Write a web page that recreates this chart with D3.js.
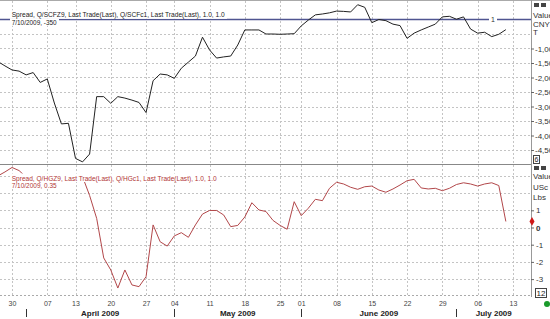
<!DOCTYPE html>
<html>
<head>
<meta charset="utf-8">
<script src="https://cdnjs.cloudflare.com/ajax/libs/d3/7.8.5/d3.min.js"></script>
<style>
body { margin: 0; background: #fff; }
svg { display: block; font-family: "Liberation Sans", Arial, sans-serif; }
</style>
</head>
<body>
<script>
// exchange holidays (no trading), everything else Mon-Fri is a trading day
var holidays = ["2009-04-06", "2009-05-01", "2009-05-28", "2009-05-29"];
var weekStarts = ["2009-03-30", "2009-04-07", "2009-04-13", "2009-04-20", "2009-04-27",
    "2009-05-04", "2009-05-11", "2009-05-18", "2009-05-25", "2009-06-01", "2009-06-08",
    "2009-06-15", "2009-06-22", "2009-06-29", "2009-07-06", "2009-07-13"];
var monthNames = ["April 2009", "May 2009", "June 2009", "July 2009"];
var monthStarts = ["2009-04-01", "2009-05-04", "2009-06-01", "2009-07-01"];

// Q/SCFZ9 - Q/SCFc1 spread (CNY/T), one value per trading day from 26 Mar to 10 Jul
var scfSpread = [-1450, -1600, -1740, -1780, -1910, -1830, -2170, -2050, -2880, -3600,
    -3580, -4790, -4910, -4640, -2660, -2660, -2890, -2660, -2710, -2780,
    -2860, -3210, -2110, -1880, -1910, -2030, -1680, -1470, -1260, -610,
    -1050, -1330, -1290, -1260, -880, -360, -360, -360, -500, -500,
    -510, -500, -490, -220, -20, 160, 190, 230, 290, 280,
    260, 510, 420, -110, 0, -40, -160, -210, -650, -470,
    -360, -260, -160, 90, 110, 10, 90, -330, -470, -440,
    -590, -510, -350];
// Q/HGZ9 - Q/HGc1 spread (USc/Lbs)
var hgSpread = [3.0, 3.23, 3.49, 3.31, 2.93, 2.90, 2.88, 2.92, 2.95, 2.90,
    2.93, 2.91, 2.95, 1.86, 0.53, -1.77, -2.47, -3.52, -2.47, -3.34,
    -3.44, -2.86, 0.15, -0.83, -1.08, -0.49, -0.30, -0.57, 0.15, 0.78,
    0.99, 0.99, 0.73, 0.05, 0.12, 0.61, 1.44, 1.02, 0.93, 0.41,
    0.12, -0.10, 1.50, 0.69, 1.12, 1.64, 1.56, 2.28, 2.63, 2.53,
    2.34, 2.22, 2.37, 2.41, 2.18, 2.05, 2.24, 2.47, 2.72, 2.80,
    2.30, 2.24, 2.28, 2.14, 2.28, 2.50, 2.60, 2.53, 2.41, 2.53,
    2.60, 2.44, 0.35];

var scfGrid = [-500, -1000, -1500, -2000, -2500, -3000, -3500, -4000, -4500];
var scfTicks = [-1000, -1500, -2000, -2500, -3000, -3500, -4000, -4500];
var hgGrid = [3, 2, 1, 0, -1, -2, -3];
var hgTicks = [1, 0, -1, -2, -3];

var fmt = d3.timeFormat("%Y-%m-%d");
var tradingDays = d3.timeDay.range(new Date(2009, 2, 26), new Date(2009, 6, 14))
    .filter(function(d) {
        return d.getDay() != 0 && d.getDay() != 6 && holidays.indexOf(fmt(d)) < 0;
    })
    .map(fmt);

var W = 550, H = 319;
var plotRight = 531;
var gridColor = "#c4c4c4";

var canvas = d3.select("body").append("svg")
    .attr("width", W)
    .attr("height", H);

var x = d3.scalePoint().domain(tradingDays).range([-2.1, 512.9]);
var yTop = d3.scaleLinear().domain([0, -4500]).range([19.5, 150]);
var yBot = d3.scaleLinear().domain([3, -3]).range([175.9, 279.1]);

var defs = canvas.append("defs");
defs.append("clipPath").attr("id", "clipTop")
    .append("rect").attr("x", 0).attr("y", 1).attr("width", plotRight).attr("height", 163);
defs.append("clipPath").attr("id", "clipBot")
    .append("rect").attr("x", 0).attr("y", 165).attr("width", plotRight).attr("height", 131);

function minusFix(f) {
    return function(d) { return f(d).replace("\u2212", "-"); };
}

// ---- grids ----
function vGrid(y0, y1) {
    canvas.append("g").selectAll("line")
        .data(weekStarts)
        .enter().append("line")
        .attr("x1", function(d) { return Math.round(x(d)) + 0.5; })
        .attr("x2", function(d) { return Math.round(x(d)) + 0.5; })
        .attr("y1", y0).attr("y2", y1)
        .attr("stroke", gridColor)
        .attr("stroke-dasharray", "2,2");
}
vGrid(1, 164);
vGrid(165, 296);

canvas.append("g").selectAll("line")
    .data(scfGrid)
    .enter().append("line")
    .attr("x1", 0).attr("x2", plotRight)
    .attr("y1", function(d) { return Math.round(yTop(d)) + 0.5; })
    .attr("y2", function(d) { return Math.round(yTop(d)) + 0.5; })
    .attr("stroke", gridColor)
    .attr("stroke-dasharray", "2,2");

canvas.append("g").selectAll("line")
    .data(hgGrid)
    .enter().append("line")
    .attr("x1", 0).attr("x2", plotRight)
    .attr("y1", function(d) { return Math.round(yBot(d)) + 0.5; })
    .attr("y2", function(d) { return Math.round(yBot(d)) + 0.5; })
    .attr("stroke", gridColor)
    .attr("stroke-dasharray", "2,2");

canvas.append("line")
    .attr("x1", 0).attr("x2", plotRight).attr("y1", 295.5).attr("y2", 295.5)
    .attr("stroke", "#aaa").attr("stroke-dasharray", "2,2");

// frame
canvas.append("line").attr("x1", 0).attr("x2", W).attr("y1", 0.5).attr("y2", 0.5).attr("stroke", "#aaa");
canvas.append("line").attr("x1", 0).attr("x2", plotRight).attr("y1", 164.5).attr("y2", 164.5).attr("stroke", "#888");
canvas.append("line").attr("x1", plotRight + 0.5).attr("x2", plotRight + 0.5).attr("y1", 0).attr("y2", 297).attr("stroke", "#999");

// ---- top panel ----
canvas.append("line")
    .attr("x1", 0).attr("x2", plotRight)
    .attr("y1", yTop(0)).attr("y2", yTop(0))
    .attr("stroke", "#4f5591").attr("stroke-width", 1.3);

var scfLine = d3.line()
    .x(function(d, i) { return x(tradingDays[i]); })
    .y(function(d) { return yTop(d); });
canvas.append("path")
    .datum(scfSpread)
    .attr("clip-path", "url(#clipTop)")
    .attr("d", scfLine)
    .attr("fill", "none")
    .attr("stroke", "#222")
    .attr("stroke-width", 1);

canvas.append("rect").attr("x", 489).attr("y", 15).attr("width", 8).attr("height", 9).attr("fill", "#fff");
canvas.append("text").attr("x", 493).attr("y", 22).attr("text-anchor", "middle")
    .attr("font-size", 7).attr("fill", "#333").text("1");

function titleBlock(y, line1, w1, line2, color) {
    canvas.append("rect").attr("x", 10).attr("y", y - 7).attr("width", w1 + 4).attr("height", 8.5).attr("fill", "#fff");
    canvas.append("rect").attr("x", 10).attr("y", y + 1.5).attr("width", 49).attr("height", 7).attr("fill", "#fff");
    canvas.append("text").attr("x", 11.7).attr("y", y)
        .attr("font-size", 7).attr("fill", color)
        .attr("textLength", w1).attr("lengthAdjust", "spacingAndGlyphs")
        .text(line1);
    canvas.append("text").attr("x", 11.7).attr("y", y + 7.8)
        .attr("font-size", 7).attr("fill", color)
        .attr("textLength", 45).attr("lengthAdjust", "spacingAndGlyphs")
        .text(line2);
}
titleBlock(17.3, "Spread, Q/SCFZ9, Last Trade(Last), Q/SCFc1, Last Trade(Last),  1.0, 1.0", 213,
    "7/10/2009, " + scfSpread[scfSpread.length - 1], "#222");

var axTop = canvas.append("g")
    .attr("transform", "translate(" + plotRight + ",0)")
    .call(d3.axisRight(yTop).tickValues(scfTicks).tickSize(3).tickPadding(1)
        .tickFormat(minusFix(d3.format(","))));
axTop.select(".domain").remove();
axTop.selectAll("text").attr("font-size", 8).attr("fill", "#333").attr("font-family", "Liberation Sans, Arial");
axTop.selectAll("line").attr("stroke", "#666");

function unitLabels(ys, labels) {
    labels.forEach(function(t, i) {
        canvas.append("text").attr("x", 533).attr("y", ys[i])
            .attr("font-size", 8).attr("fill", "#333").text(t);
    });
}
unitLabels([17.5, 26.5, 35], ["Value", "CNY", "T"]);
unitLabels([179, 190, 200], ["Value", "USc", "Lbs"]);

function icons(y) {
    canvas.append("rect").attr("x", 534).attr("y", y).attr("width", 5).attr("height", 4).attr("fill", "#444");
    canvas.append("rect").attr("x", 541).attr("y", y).attr("width", 5).attr("height", 4).attr("fill", "#444");
}
icons(3);
icons(166);

function boxNum(bx, by, bw, bh, label) {
    canvas.append("rect").attr("x", bx + 0.5).attr("y", by + 0.5).attr("width", bw).attr("height", bh)
        .attr("fill", "#fff").attr("stroke", "#444");
    canvas.append("text").attr("x", bx + 0.5 + bw / 2).attr("y", by + bh - 1).attr("text-anchor", "middle")
        .attr("font-size", bh - 1).attr("fill", "#222").text(label);
}
boxNum(533, 155, 6, 8, "6");

// ---- bottom panel ----
var hgLine = d3.line()
    .x(function(d, i) { return x(tradingDays[i]); })
    .y(function(d) { return yBot(d); });
canvas.append("path")
    .datum(hgSpread)
    .attr("clip-path", "url(#clipBot)")
    .attr("d", hgLine)
    .attr("fill", "none")
    .attr("stroke", "#b2474a")
    .attr("stroke-width", 1);

titleBlock(180.5, "Spread, Q/HGZ9, Last Trade(Last), Q/HGc1, Last Trade(Last),  1.0, 1.0", 205,
    "7/10/2009, " + hgSpread[hgSpread.length - 1], "#b03434");

var axBot = canvas.append("g")
    .attr("transform", "translate(" + plotRight + ",0)")
    .call(d3.axisRight(yBot).tickValues(hgTicks).tickSize(3).tickPadding(2)
        .tickFormat(minusFix(d3.format("d"))));
axBot.select(".domain").remove();
axBot.selectAll("text").attr("font-size", 8).attr("fill", "#333").attr("font-family", "Liberation Sans, Arial")
    .attr("font-weight", function(d) { return d == 0 ? "bold" : "normal"; });
axBot.selectAll("line").attr("stroke", "#666");

// last value marker
canvas.append("path")
    .attr("d", d3.symbol().type(d3.symbolDiamond).size(22))
    .attr("transform", "translate(" + (plotRight + 1) + "," + yBot(hgSpread[hgSpread.length - 1]) + ")")
    .attr("fill", "#d01818");

boxNum(535, 288, 11, 9, "12");

// ---- x axis ----
var axX = canvas.append("g")
    .attr("transform", "translate(0,297)")
    .call(d3.axisBottom(x).tickValues(weekStarts).tickSize(0).tickPadding(4)
        .tickFormat(function(d) { return d.slice(8); }));
axX.select(".domain").remove();
axX.selectAll("text").attr("font-size", 7).attr("fill", "#444").attr("font-family", "Liberation Sans, Arial");

monthStarts.forEach(function(m, i) {
    var x0 = x(m);
    var x1 = i < monthStarts.length - 1 ? x(monthStarts[i + 1]) : plotRight;
    canvas.append("line")
        .attr("x1", Math.round(x0) + 0.5).attr("x2", Math.round(x0) + 0.5)
        .attr("y1", 309).attr("y2", 317)
        .attr("stroke", "#333");
    canvas.append("text")
        .attr("x", (x0 + x1) / 2).attr("y", 316)
        .attr("text-anchor", "middle")
        .attr("font-size", 8).attr("font-weight", "bold").attr("fill", "#222")
        .text(monthNames[i]);
});

canvas.append("circle").attr("cx", 547).attr("cy", 304).attr("r", 3).attr("fill", "#1a9a2a");
</script>
</body>
</html>
